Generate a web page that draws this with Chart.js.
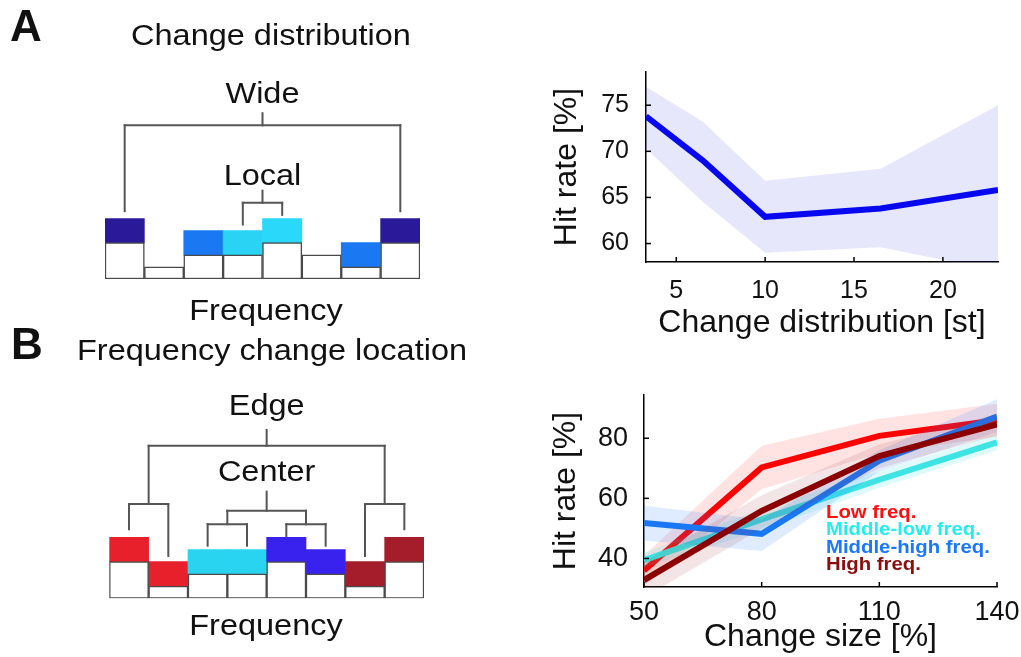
<!DOCTYPE html>
<html>
<head>
<meta charset="utf-8">
<script src="https://cdn.jsdelivr.net/npm/chart.js@4.4.0/dist/chart.umd.min.js"></script>
<style>
  html, body { margin: 0; padding: 0; background: #fff; overflow: hidden; }
  canvas { position: absolute; }
</style>
</head>
<body>
<canvas id="schemeA" width="470" height="340" style="left:0;top:0"></canvas>
<canvas id="schemeB" width="470" height="337" style="left:0;top:320px"></canvas>
<canvas id="distChart" width="491" height="290" style="left:530px;top:55px"></canvas>
<canvas id="sizeChart" width="491" height="277" style="left:530px;top:380px"></canvas>
<script>
// ---- data ----
const freqBins = ['f1', 'f2', 'f3', 'f4', 'f5', 'f6', 'f7', 'f8'];

// A: schematic (white = base level, coloured = change)
const schemeABase = [3, 1, 2, 2, 3, 2, 1, 3];
const schemeAChange = [2, 0, 2, 2, 2, 0, 2, 2];
const schemeAColors = ['#2a1a9a', null, '#1a78f2', '#2ad2f4', '#2ad8fa', null, '#1a78f2', '#2a1a9a'];

// B: schematic
const schemeBBase = [3, 1, 2, 2, 3, 2, 1, 3];
const schemeBChange = [2, 2, 2, 2, 2, 2, 2, 2];
const schemeBColors = ['#e8202c', '#e8202c', '#28d4f0', '#28d4f0', '#3a22ee', '#3a22ee', '#a51d2a', '#a51d2a'];

// A: hit rate vs change distribution
const distX = [3.3, 6.5, 10, 16.5, 23.1];
const distMean = [73.8, 69.0, 62.9, 63.8, 65.8];
const distUpper = [77.0, 73.2, 66.8, 68.1, 75.0];
const distLower = [70.3, 64.5, 59.0, 59.6, 57.0];
const distXTicks = [5, 10, 15, 20];
const distYTicks = [60, 65, 70, 75];

// B: hit rate vs change size, per frequency band
const sizeX = [50, 80, 110, 140];
const lowMean = [36.0, 70.3, 80.8, 86.0];
const lowUpper = [41.0, 77.5, 86.5, 91.5];
const lowLower = [31.0, 63.0, 75.0, 80.5];
const midLowMean = [39.4, 53.0, 66.2, 78.6];
const midLowUpper = [42.0, 56.5, 69.0, 81.5];
const midLowLower = [37.0, 49.5, 63.5, 76.0];
const midHighMean = [51.8, 48.2, 72.5, 87.2];
const midHighUpper = [57.5, 53.0, 76.0, 93.0];
const midHighLower = [46.0, 42.5, 69.0, 82.0];
const highMean = [32.8, 55.8, 74.1, 84.6];
const highUpper = [39.0, 61.0, 78.0, 88.0];
const highLower = [27.0, 50.0, 70.0, 81.0];
const seriesNames = ['Low freq.', 'Middle-low freq.', 'Middle-high freq.', 'High freq.'];
const sizeXTicks = [50, 80, 110, 140];
const sizeYTicks = [40, 60, 80];

// brackets of the schematics, [x1, y1, x2, y2] in bin / level units
const bracketsA = [
    [0, 12.7, 7, 12.7], [0, 12.7, 0, 5.6], [7, 12.7, 7, 5.6], [3.5, 12.7, 3.5, 13.7],
    [3, 6.3, 4, 6.3], [3, 6.3, 3, 4.5], [4, 6.3, 4, 5.3], [3.5, 6.3, 3.5, 7.3]
];
const bracketsB = [
    [0.5, 12.5, 6.5, 12.5], [3.5, 12.5, 3.5, 13.8], [0.5, 12.5, 0.5, 7.73], [6.5, 12.5, 6.5, 7.73],
    [0, 7.73, 1, 7.73], [0, 7.73, 0, 5.66], [1, 7.73, 1, 3.47],
    [6, 7.73, 7, 7.73], [6, 7.73, 6, 3.47], [7, 7.73, 7, 5.66],
    [3.5, 8.74, 3.5, 7.18], [2.5, 7.18, 4.5, 7.18], [2.5, 7.18, 2.5, 6.07], [4.5, 7.18, 4.5, 6.07],
    [2, 6.07, 3, 6.07], [2, 6.07, 2, 4.31], [3, 6.07, 3, 4.31],
    [4, 6.07, 5, 6.07], [4, 6.07, 4, 5.1], [5, 6.07, 5, 4.31]
];

const FONT = '"Liberation Sans", Arial, sans-serif';
Chart.defaults.font.family = FONT;
Chart.defaults.color = '#111';

// text slightly widened like the original figure
function stretchText(ctx, text, x, y, font, sx, color, align) {
    ctx.save();
    ctx.font = font;
    ctx.fillStyle = color || '#111';
    ctx.textBaseline = 'middle';
    ctx.textAlign = align || 'center';
    ctx.translate(x, y);
    ctx.scale(sx, 1);
    ctx.fillText(text, 0, 0);
    ctx.restore();
}

function diagramPlugin(segments, labels, texts) {
    return {
        id: 'diagram',
        afterDraw(chart) {
            const { ctx } = chart;
            const xs = chart.scales.x, ys = chart.scales.y;
            ctx.save();
            ctx.strokeStyle = '#555';
            ctx.lineWidth = 2;
            ctx.lineCap = 'square';
            segments.forEach(([x1, y1, x2, y2]) => {
                ctx.beginPath();
                ctx.moveTo(xs.getPixelForValue(x1), ys.getPixelForValue(y1));
                ctx.lineTo(xs.getPixelForValue(x2), ys.getPixelForValue(y2));
                ctx.stroke();
            });
            ctx.restore();
            labels.forEach(l => {
                stretchText(ctx, l.text, xs.getPixelForValue(l.x), ys.getPixelForValue(l.y), '29px ' + FONT, 1.12);
            });
            texts.forEach(t => {
                stretchText(ctx, t.text, t.x, t.y, t.font, t.sx, '#111', t.align);
            });
        }
    };
}

function schemeChart(id, base, change, colors, pad, segments, labels, texts) {
    return new Chart(document.getElementById(id), {
        type: 'bar',
        data: {
            labels: freqBins,
            datasets: [
                {
                    data: base,
                    backgroundColor: '#ffffff',
                    borderColor: '#4a4a4a',
                    borderWidth: 1.5,
                    borderSkipped: false
                },
                {
                    data: change,
                    backgroundColor: colors.map(c => c || 'rgba(0,0,0,0)'),
                    borderWidth: 0
                }
            ]
        },
        options: {
            responsive: false,
            animation: false,
            devicePixelRatio: 1,
            layout: { padding: pad },
            plugins: { legend: { display: false }, tooltip: { enabled: false } },
            datasets: { bar: { barPercentage: 1, categoryPercentage: 1 } },
            scales: {
                x: { display: false, stacked: true },
                y: { display: false, stacked: true, min: 0, max: 16 }
            }
        },
        plugins: [diagramPlugin(segments, labels, texts)]
    });
}

schemeChart('schemeA', schemeABase, schemeAChange, schemeAColors,
    { left: 105, right: 50, top: 85.4, bottom: 61 },
    bracketsA,
    [{ text: 'Wide', x: 3.5, y: 15.2 }, { text: 'Local', x: 3.5, y: 8.45 }],
    [
        { text: 'A', x: 10, y: 29, font: 'bold 44px ' + FONT, sx: 1, align: 'left' },
        { text: 'Change distribution', x: 271, y: 37, font: '29px ' + FONT, sx: 1.12 },
        { text: 'Frequency', x: 266, y: 312, font: '29px ' + FONT, sx: 1.12 }
    ]);

schemeChart('schemeB', schemeBBase, schemeBChange, schemeBColors,
    { left: 109.3, right: 46, top: 83.1, bottom: 58.7 },
    bracketsB,
    [{ text: 'Edge', x: 3.5, y: 15.7 }, { text: 'Center', x: 3.5, y: 10.25 }],
    [
        { text: 'B', x: 11, y: 27, font: 'bold 44px ' + FONT, sx: 1, align: 'left' },
        { text: 'Frequency change location', x: 77, y: 32, font: '29px ' + FONT, sx: 1.12, align: 'left' },
        { text: 'Frequency', x: 266, y: 307, font: '29px ' + FONT, sx: 1.12 }
    ]);

// inner tick marks + optional legend text
function axesPlugin(legend) {
    return {
        id: 'axesExtras',
        afterDraw(chart) {
            const { ctx, chartArea } = chart;
            const xs = chart.scales.x, ys = chart.scales.y;
            ctx.save();
            ctx.strokeStyle = '#000';
            ctx.lineWidth = 1.5;
            xs.ticks.forEach(t => {
                const px = xs.getPixelForValue(t.value);
                ctx.beginPath();
                ctx.moveTo(px, chartArea.bottom);
                ctx.lineTo(px, chartArea.bottom - 5);
                ctx.stroke();
            });
            ys.ticks.forEach(t => {
                const py = ys.getPixelForValue(t.value);
                ctx.beginPath();
                ctx.moveTo(chartArea.left, py);
                ctx.lineTo(chartArea.left + 5, py);
                ctx.stroke();
            });
            ctx.restore();
            if (legend) {
                legend.names.forEach((name, i) => {
                    stretchText(ctx, name, legend.x, legend.y + i * legend.step,
                        'bold 18px ' + FONT, 1.13, legend.colors[i], 'left');
                });
            }
        }
    };
}

function pts(xs, ys) {
    return xs.map((x, i) => ({ x: x, y: ys[i] }));
}

function bandSets(xs, mean, upper, lower, lineColor, bandColor, width, order) {
    return [
        { data: pts(xs, upper), borderWidth: 0, pointRadius: 0, fill: '+1', backgroundColor: bandColor, order: order + 2 },
        { data: pts(xs, lower), borderWidth: 0, pointRadius: 0, fill: false, order: order + 1 },
        { data: pts(xs, mean), borderColor: lineColor, borderWidth: width, pointRadius: 0, fill: false, tension: 0, order: order, borderJoinStyle: 'miter' }
    ];
}

// plot box is fixed by the layout padding, so drop the label overhang padding
function noOverhang(s) {
    s.paddingTop = 0;
    s.paddingBottom = 0;
    s.paddingLeft = 0;
    s.paddingRight = 0;
}

function lineOptions(cfg) {
    const tickFont = { size: cfg.tickSize };
    const titleFont = { size: 32 };
    return {
        responsive: false,
        animation: false,
        devicePixelRatio: 1,
        layout: { padding: { left: 0, top: cfg.padTop, right: cfg.padRight, bottom: 0 } },
        plugins: { legend: { display: false }, tooltip: { enabled: false } },
        scales: {
            x: {
                type: 'linear',
                min: cfg.xMin, max: cfg.xMax,
                afterBuildTicks: s => { s.ticks = cfg.xTicks.map(v => ({ value: v })); },
                afterFit: s => { s.height = cfg.xHeight; noOverhang(s); },
                grid: { display: false, drawTicks: false },
                border: { color: '#000', width: 1.5 },
                ticks: { font: tickFont, color: '#111', padding: cfg.xTickPad, maxRotation: 0 },
                title: { display: true, text: cfg.xTitle, font: titleFont, color: '#111', padding: { top: 0, bottom: cfg.xTitlePad } }
            },
            y: {
                type: 'linear',
                min: cfg.yMin, max: cfg.yMax,
                afterBuildTicks: s => { s.ticks = cfg.yTicks.map(v => ({ value: v })); },
                afterFit: s => { s.width = cfg.yWidth; noOverhang(s); },
                grid: { display: false, drawTicks: false },
                border: { color: '#000', width: 1.5 },
                ticks: { font: tickFont, color: '#111', padding: cfg.yTickPad },
                title: { display: true, text: 'Hit rate [%]', font: titleFont, color: '#111', padding: { top: cfg.yTitlePad, bottom: 0 } }
            }
        }
    };
}

new Chart(document.getElementById('distChart'), {
    type: 'line',
    data: {
        datasets: bandSets(distX, distMean, distUpper, distLower, '#0808f0', 'rgba(40,40,230,0.11)', 6, 1)
    },
    options: lineOptions({
        padTop: 17, padRight: 23, xHeight: 83, yWidth: 116,
        xMin: 3.3, xMax: 23.1, yMin: 58, yMax: 78.6,
        xTicks: distXTicks, yTicks: distYTicks,
        tickSize: 25, xTickPad: 14, yTickPad: 17,
        xTitle: 'Change distribution [st]', xTitlePad: 3, yTitlePad: 18
    }),
    plugins: [axesPlugin(null)]
});

const seriesColors = ['#ff0000', '#3ee4e4', '#1a78f5', '#8b0000'];
new Chart(document.getElementById('sizeChart'), {
    type: 'line',
    data: {
        datasets: [
            ...bandSets(sizeX, lowMean, lowUpper, lowLower, seriesColors[0], 'rgba(255,60,60,0.14)', 6, 10),
            ...bandSets(sizeX, midLowMean, midLowUpper, midLowLower, seriesColors[1], 'rgba(40,220,220,0.15)', 6, 7),
            ...bandSets(sizeX, midHighMean, midHighUpper, midHighLower, seriesColors[2], 'rgba(40,130,255,0.15)', 6, 4),
            ...bandSets(sizeX, highMean, highUpper, highLower, seriesColors[3], 'rgba(160,40,40,0.12)', 6, 1)
        ]
    },
    options: lineOptions({
        padTop: 15, padRight: 24, xHeight: 70, yWidth: 114,
        xMin: 50, xMax: 140, yMin: 30.5, yMax: 94.4,
        xTicks: sizeXTicks, yTicks: sizeYTicks,
        tickSize: 27, xTickPad: 9, yTickPad: 16,
        xTitle: 'Change size [%]', xTitlePad: 1, yTitlePad: 17
    }),
    plugins: [axesPlugin({
        names: seriesNames,
        colors: ['#ff1010', '#22eeee', '#1a78ff', '#8b0d0d'],
        x: 296, y: 132.7, step: 17.5
    })]
});
</script>
</body>
</html>
